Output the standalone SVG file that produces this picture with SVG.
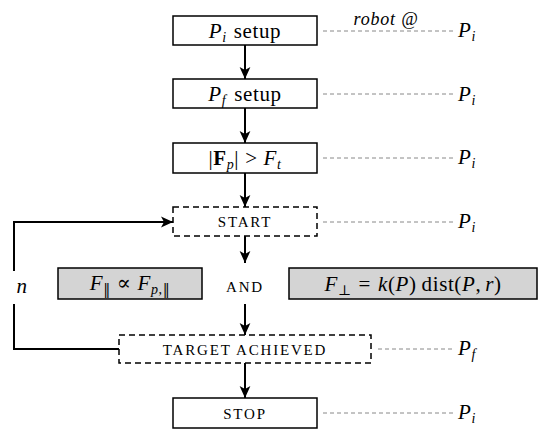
<svg xmlns="http://www.w3.org/2000/svg" width="550" height="438" viewBox="0 0 550 438">
<defs>
<marker id="ah" viewBox="0 0 10 10" refX="10" refY="5" markerWidth="12" markerHeight="12" markerUnits="userSpaceOnUse" orient="auto">
<path d="M0,0.5 L10,5 L0,9.5 L2.5,5 Z" fill="#000"/>
</marker>
<style>
.box{fill:#fff;stroke:#000;stroke-width:1.5}
.dbox{fill:#fff;stroke:#000;stroke-width:1.5;stroke-dasharray:6 4}
.gbox{fill:#d4d4d4;stroke:#000;stroke-width:1.5}
.lead{stroke:#888;stroke-width:1;stroke-dasharray:4 3;fill:none}
.flow{stroke:#000;stroke-width:2;fill:none;marker-end:url(#ah)}
.plain{stroke:#000;stroke-width:2;fill:none}
text{font-family:"Liberation Serif","DejaVu Serif",serif;fill:#000}
.m{font-size:21px;letter-spacing:0.6px}
.sc{font-size:15px;letter-spacing:1.8px}
.it{font-style:italic}
.sub{font-size:14px}
.sym{font-family:"DejaVu Serif",serif;font-style:normal}
</style>
</defs>
<g id="connectors">
<line class="flow" x1="245" y1="45" x2="245" y2="79"/>
<line class="flow" x1="245" y1="108" x2="245" y2="143"/>
<line class="flow" x1="245" y1="173" x2="245" y2="207"/>
<line class="flow" x1="245" y1="236" x2="245" y2="263"/>
<line class="flow" x1="245" y1="304" x2="245" y2="335"/>
<line class="flow" x1="245" y1="363" x2="245" y2="398"/>
<polyline class="plain" points="119,349 14,349 14,304"/>
<polyline class="flow" points="14,271 14,222 173,222"/>
<line class="lead" x1="323" y1="31" x2="453" y2="31"/>
<line class="lead" x1="323" y1="94" x2="453" y2="94"/>
<line class="lead" x1="323" y1="158" x2="453" y2="158"/>
<line class="lead" x1="323" y1="222" x2="453" y2="222"/>
<line class="lead" x1="378" y1="349" x2="453" y2="349"/>
<line class="lead" x1="323" y1="413" x2="453" y2="413"/>
</g>
<g id="n1">
<rect class="box" x="173" y="16" width="144" height="29"/>
<text class="m" x="245" y="38" text-anchor="middle"><tspan class="it">P</tspan><tspan class="it sub" dy="4">i</tspan><tspan dy="-4" dx="7">setup</tspan></text>
</g>
<g id="n2">
<rect class="box" x="173" y="79" width="144" height="29"/>
<text class="m" x="245" y="101" text-anchor="middle"><tspan class="it">P</tspan><tspan class="it sub" dy="4">f</tspan><tspan dy="-4" dx="8">setup</tspan></text>
</g>
<g id="n3">
<rect class="box" x="173" y="143" width="144" height="30"/>
<text class="m" x="245" y="165" text-anchor="middle">|<tspan font-weight="bold">F</tspan><tspan class="it sub" dy="4">p</tspan><tspan dy="-4">|</tspan><tspan dx="6">&gt;</tspan><tspan class="it" dx="6">F</tspan><tspan class="it sub" dy="4">t</tspan></text>
</g>
<g id="start">
<rect class="dbox" x="173" y="207" width="144" height="29"/>
<text class="sc" x="245" y="227" text-anchor="middle">START</text>
</g>
<g id="and">
<text class="sc" x="245" y="292" text-anchor="middle">AND</text>
</g>
<g id="fpar">
<rect class="gbox" x="58" y="268" width="144" height="31"/>
<text class="m" x="130" y="290" text-anchor="middle"><tspan class="it">F</tspan><tspan class="sub sym" dy="4">‖</tspan><tspan dy="-4" dx="6" class="sym">∝</tspan><tspan class="it" dx="6">F</tspan><tspan class="it sub" dy="4">p</tspan><tspan class="sub">,</tspan><tspan class="sub sym">‖</tspan></text>
</g>
<g id="fperp">
<rect class="gbox" x="289" y="268" width="248" height="31"/>
<text class="m" x="413" y="291" text-anchor="middle"><tspan class="it">F</tspan><tspan class="sub" dy="4">⊥</tspan><tspan dy="-4" dx="7">=</tspan><tspan class="it" dx="7">k</tspan>(<tspan class="it">P</tspan>)<tspan dx="5">dist(</tspan><tspan class="it">P</tspan>,<tspan class="it" dx="4">r</tspan>)</text>
</g>
<g id="target">
<rect class="dbox" x="119" y="335" width="252" height="28"/>
<text class="sc" x="245" y="355" text-anchor="middle">TARGET ACHIEVED</text>
</g>
<g id="stop">
<rect class="box" x="173" y="398" width="144" height="30"/>
<text class="sc" x="245" y="419" text-anchor="middle">STOP</text>
</g>
<g id="labels">
<text class="m it" x="22" y="293" text-anchor="middle">n</text>
<text class="it" x="386" y="25" font-size="18" letter-spacing="0.8" text-anchor="middle">robot @</text>
<text class="m" x="458" y="37"><tspan class="it">P</tspan><tspan class="it sub" dy="4">i</tspan></text>
<text class="m" x="458" y="101"><tspan class="it">P</tspan><tspan class="it sub" dy="4">i</tspan></text>
<text class="m" x="458" y="164"><tspan class="it">P</tspan><tspan class="it sub" dy="4">i</tspan></text>
<text class="m" x="458" y="228"><tspan class="it">P</tspan><tspan class="it sub" dy="4">i</tspan></text>
<text class="m" x="458" y="355"><tspan class="it">P</tspan><tspan class="it sub" dy="4">f</tspan></text>
<text class="m" x="458" y="419"><tspan class="it">P</tspan><tspan class="it sub" dy="4">i</tspan></text>
</g>
</svg>
